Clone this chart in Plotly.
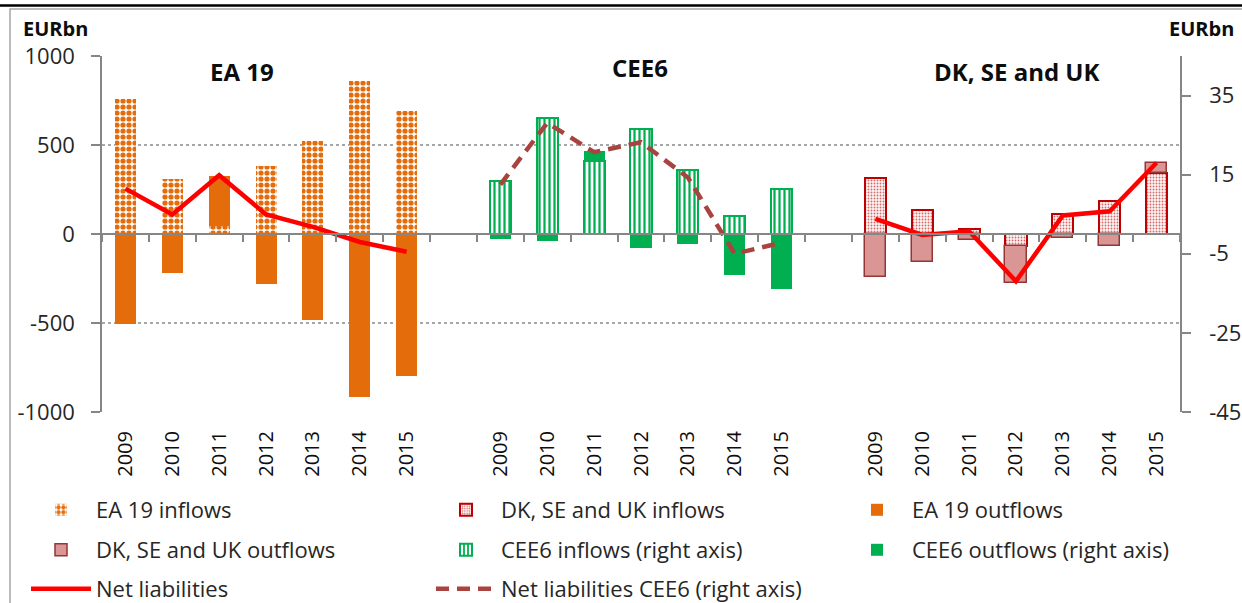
import plotly.graph_objects as go

# ---------------- data ----------------
years = ["2009", "2010", "2011", "2012", "2013", "2014", "2015"]

ea_inflows = [757, 309, 44, 384, 520, 860, 692]
ea_outflows = [-507, -217, 280, -279, -483, -917, -800]
dk_inflows = [314, 136, 30, -65, 112, 186, 341]
dk_outflows = [-241, -159, -32, -209, -22, -69, 56]
cee_inflows = [13.5, 29.3, 18.4, 26.6, 16.1, 4.6, 11.5]
cee_outflows = [-1.3, -1.7, 2.5, -3.5, -2.5, -10.3, -13.9]
net_ea = [255, 110, 330, 110, 40, -45, -100]
net_dk = [85, -5, 15, -265, 104, 128, 400]
net_cee = [12.5, 28.1, 20.7, 23.2, 14.3, -5.0, -2.2]

group_titles = ["EA 19", "CEE6", "DK, SE and UK"]
left_ticks = [-1000, -500, 0, 500, 1000]
right_ticks = [-45, -25, -5, 15, 35]

# ---------------- layout helpers ----------------
W_FIG, H_FIG = 1242, 603
L, R, T, B = 102, 1180, 56, 412
PW, PH = R - L, B - T


def px2x(px):
    return (px - L) / PW


def py2y(py):
    return (B - py) / PH


n = len(years)
gap = 1
x_ea = [i for i in range(n)]
x_cee = [i + n + gap for i in range(n)]
x_dk = [i + 2 * (n + gap) for i in range(n)]
n_slots = 3 * n + 2 * gap
xrange_ = [-0.5, n_slots - 0.5]

FONT = "Open Sans"
TXT = "#262626"
ORANGE = "#E46C0A"
GREEN = "#00B050"
RED = "#FF0000"
DKRED = "#C00000"
PINK = "#D99694"
BROWN = "#943634"
DASHC = "#A9433F"
BW = 0.45

fig = go.Figure()

fig.add_trace(go.Bar(
    x=x_ea, y=ea_inflows, name="EA 19 inflows", width=BW, legend="legend",
    marker=dict(color="white", line=dict(width=0),
                pattern=dict(shape=".", fgcolor=ORANGE, bgcolor="white",
                             size=6, solidity=0.6, fillmode="replace")),
))
fig.add_trace(go.Bar(
    x=x_dk, y=dk_inflows, name="DK, SE and UK inflows", width=BW, legend="legend2",
    marker=dict(color="white", line=dict(width=2, color=DKRED),
                pattern=dict(shape=".", fgcolor="#D46A6A", bgcolor="#FFF6F6",
                             size=3, solidity=0.3, fillmode="replace")),
))
fig.add_trace(go.Bar(
    x=x_ea, y=ea_outflows, name="EA 19 outflows", width=BW, legend="legend3",
    marker=dict(color=ORANGE, line=dict(width=0)),
))
fig.add_trace(go.Bar(
    x=x_dk, y=dk_outflows, name="DK, SE and UK outflows", width=BW, legend="legend4",
    marker=dict(color=PINK, line=dict(width=1.5, color=BROWN)),
))
fig.add_trace(go.Bar(
    x=x_cee, y=cee_inflows, name="CEE6 inflows (right axis)", width=BW, yaxis="y2",
    legend="legend5",
    marker=dict(color="white", line=dict(width=2, color=GREEN),
                pattern=dict(shape="|", fgcolor=GREEN, bgcolor="white",
                             size=5, solidity=0.45, fillmode="replace")),
))
fig.add_trace(go.Bar(
    x=x_cee, y=cee_outflows, name="CEE6 outflows (right axis)", width=BW, yaxis="y2",
    legend="legend6",
    marker=dict(color=GREEN, line=dict(width=0)),
))
fig.add_trace(go.Scatter(
    x=x_ea + [None] + x_dk, y=net_ea + [None] + net_dk, name="Net liabilities",
    mode="lines", line=dict(color=RED, width=4.5), connectgaps=False, legend="legend7",
))
fig.add_trace(go.Scatter(
    x=x_cee, y=net_cee, name="Net liabilities CEE6 (right axis)", yaxis="y2",
    mode="lines", line=dict(color=DASHC, width=4.5, dash="13px,8px"), legend="legend8",
))
# empty helper trace so the zero-level category axis (x2) is rendered
fig.add_trace(go.Scatter(
    x=[None], y=[None], xaxis="x2", yaxis="y", mode="lines", showlegend=False,
    hoverinfo="skip",
))

# ---------------- axes ----------------
tickfont = dict(family=FONT, size=22, color=TXT)
fig.update_layout(
    width=W_FIG, height=H_FIG,
    margin=dict(l=L, r=W_FIG - R, t=T, b=H_FIG - B, pad=0, autoexpand=False),
    paper_bgcolor="white", plot_bgcolor="white",
    barmode="relative", bargap=0,
    font=dict(family=FONT, color=TXT),
    xaxis=dict(
        range=xrange_, tickmode="array",
        tickvals=x_ea + x_cee + x_dk, ticktext=years * 3,
        tickangle=-90, ticks="", showline=False, showgrid=False, zeroline=False,
        tickfont=dict(family=FONT, size=20, color="#0D0D0D"),
        ticklabelstandoff=14, fixedrange=True,
    ),
    xaxis2=dict(
        range=xrange_, overlaying="x", anchor="free", position=0.5,
        tickmode="array", tickvals=[v - 0.5 for v in range(n_slots + 1)],
        showticklabels=False, ticks="outside", ticklen=7, tickcolor="#868686",
        tickwidth=1.5, showline=True, linecolor="#868686", linewidth=1.5,
        showgrid=False, zeroline=False, fixedrange=True,
    ),
    yaxis=dict(
        range=[-1000, 1000], tickmode="array", tickvals=left_ticks,
        ticktext=[str(v) for v in left_ticks],
        ticks="outside", ticklen=9, tickcolor="#868686", tickwidth=1.5,
        showline=True, linecolor="#868686", linewidth=1.5,
        showgrid=True, gridcolor="#A6A6A6", griddash="dot", gridwidth=1.5,
        zeroline=False, tickfont=tickfont, fixedrange=True, ticklabelstandoff=12,
    ),
    yaxis2=dict(
        range=[-45, 45], overlaying="y", side="right", tickmode="array",
        tickvals=right_ticks, ticktext=[str(v) for v in right_ticks],
        ticks="outside", ticklen=9, tickcolor="#868686",
        tickwidth=1.5, showline=True, linecolor="#868686", linewidth=1.5,
        showgrid=False, zeroline=False, tickfont=tickfont, fixedrange=True,
        ticklabelstandoff=14,
    ),
    showlegend=True,
)

# ---------------- legends (3 columns x 3 rows) ----------------
col_px = [26, 431, 842]
row_py = [510, 550, 589]
legend_slots = [(0, 0), (0, 1), (0, 2), (1, 0), (1, 1), (1, 2), (2, 0), (2, 1)]
for k, (r, c) in enumerate(legend_slots):
    key = "legend" if k == 0 else f"legend{k + 1}"
    fig.update_layout({key: dict(
        x=px2x(col_px[c]), y=py2y(row_py[r]), xanchor="left", yanchor="middle",
        orientation="h", bgcolor="rgba(0,0,0,0)", borderwidth=0,
        font=dict(family=FONT, size=22, color=TXT), itemwidth=60,
    )})

# ---------------- annotations ----------------
ann = []
ann.append(dict(text="<b>EURbn</b>", x=px2x(21), y=py2y(28), xref="paper", yref="paper",
                xanchor="left", yanchor="middle", showarrow=False,
                font=dict(family=FONT, size=20, color="#0D0D0D")))
ann.append(dict(text="<b>EURbn</b>", x=px2x(1236), y=py2y(28), xref="paper", yref="paper",
                xanchor="right", yanchor="middle", showarrow=False,
                font=dict(family=FONT, size=20, color="#0D0D0D")))
title_px = [(242, 71), (640, 68), (1017, 71)]
for t, (tx, ty) in zip(group_titles, title_px):
    ann.append(dict(text=f"<b>{t}</b>", x=px2x(tx), y=py2y(ty), xref="paper", yref="paper",
                    xanchor="center", yanchor="middle", showarrow=False,
                    font=dict(family=FONT, size=24, color="#0D0D0D")))
fig.update_layout(annotations=ann)

# ---------------- frame ----------------
fig.update_layout(shapes=[
    dict(type="line", xref="paper", yref="paper", x0=px2x(0), x1=px2x(W_FIG),
         y0=py2y(5.5), y1=py2y(5.5), line=dict(color="black", width=2.5)),
    dict(type="path", xref="paper", yref="paper",
         path=f"M {px2x(10)} {py2y(W_FIG)} L {px2x(10)} {py2y(9)} L {px2x(W_FIG)} {py2y(9)}",
         line=dict(color="#A6A6A6", width=1.5)),
])

fig.write_html(
    "out.html",
    config={"displayModeBar": False},
    post_script="document.body.style.margin='0px';document.body.style.overflow='hidden';",
)
